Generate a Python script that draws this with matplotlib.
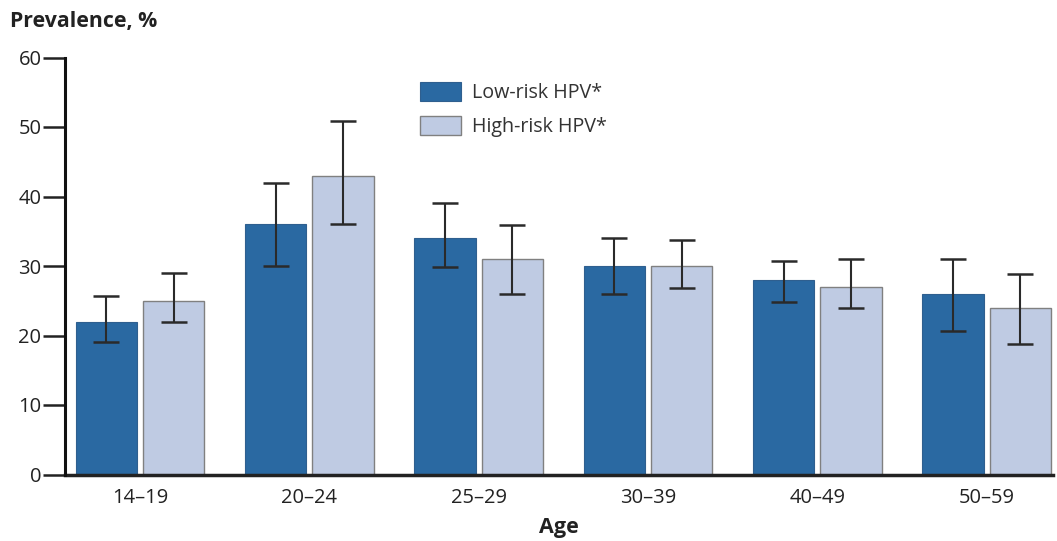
import matplotlib
matplotlib.use("Agg")
import matplotlib.pyplot as plt
import numpy as np

ages = ["14\u201319", "20\u201324", "25\u201329", "30\u201339", "40\u201349", "50\u201359"]
low_risk = [22, 36, 34, 30, 28, 26]
low_lo = [19, 30, 29.8, 26, 24.8, 20.7]
low_hi = [25.7, 41.9, 39, 34, 30.7, 31]
high_risk = [25, 43, 31, 30, 27, 24]
high_lo = [22, 36, 25.9, 26.9, 24, 18.8]
high_hi = [29, 50.9, 35.9, 33.7, 31, 28.8]

main = "Open Sans"

fig = plt.figure(figsize=(10.57, 5.41), dpi=100)
ax = fig.add_axes([65/1057, 1-474.5/541, (1053-65)/1057, (474.5-57.5)/541])

x = np.arange(len(ages))
w = 0.363
off = 0.199
dark = "#2a69a2"
light = "#bfcbe3"
errc = "#2a2a2a"

low_err = [np.array(low_risk) - np.array(low_lo), np.array(low_hi) - np.array(low_risk)]
high_err = [np.array(high_risk) - np.array(high_lo), np.array(high_hi) - np.array(high_risk)]

ax.bar(x - off, low_risk, w, color=dark, edgecolor="#2f5f8f", linewidth=0.8, label="Low-risk HPV*", zorder=2)
ax.bar(x + off, high_risk, w, color=light, edgecolor="#808080", linewidth=1.0, label="High-risk HPV*", zorder=2)
ax.errorbar(x - off, low_risk, yerr=low_err, fmt="none", ecolor=errc, elinewidth=1.5, capsize=9.5, capthick=1.8, zorder=3)
ax.errorbar(x + off, high_risk, yerr=high_err, fmt="none", ecolor=errc, elinewidth=1.5, capsize=9.5, capthick=1.8, zorder=3)

ax.set_ylim(0, 60)
ax.set_xlim(-0.443, 5.392)
ax.set_yticks([0, 10, 20, 30, 40, 50, 60])
ax.set_xticks(x)
ax.set_xticklabels(ages, fontfamily=main, fontsize=14.5, color="#222222")
for lab in ax.get_yticklabels():
    lab.set_fontfamily(main)
    lab.set_fontsize(14.5)
    lab.set_color("#222222")

for s in ["top", "right"]:
    ax.spines[s].set_visible(False)
ax.spines["left"].set_linewidth(2.2)
ax.spines["left"].set_color("#111111")
ax.spines["bottom"].set_linewidth(2.5)
ax.spines["bottom"].set_color("#222222")
ax.spines["left"].set_zorder(4)
ax.tick_params(axis="y", direction="out", length=16, width=1.8, pad=1, color="#222222")
ax.tick_params(axis="x", length=0, pad=10)

fig.text(10/1057, 1-22/541, "Prevalence, %", fontfamily=main, fontweight="bold", fontsize=15.3,
         va="center", ha="left", color="#222222")
ax.set_xlabel("Age", fontfamily=main, fontweight="bold", fontsize=15.5, color="#222222", labelpad=6)

leg = ax.legend(loc="upper left", bbox_to_anchor=(420/1057, 1-82/541), bbox_transform=fig.transFigure,
                frameon=False, prop={"family": main, "size": 14.2}, handlelength=2.1, handleheight=1.1,
                handletextpad=0.55, labelspacing=0.65, borderpad=0, borderaxespad=0)
for t in leg.get_texts():
    t.set_color("#333333")

fig.savefig("out.png", dpi=100)
